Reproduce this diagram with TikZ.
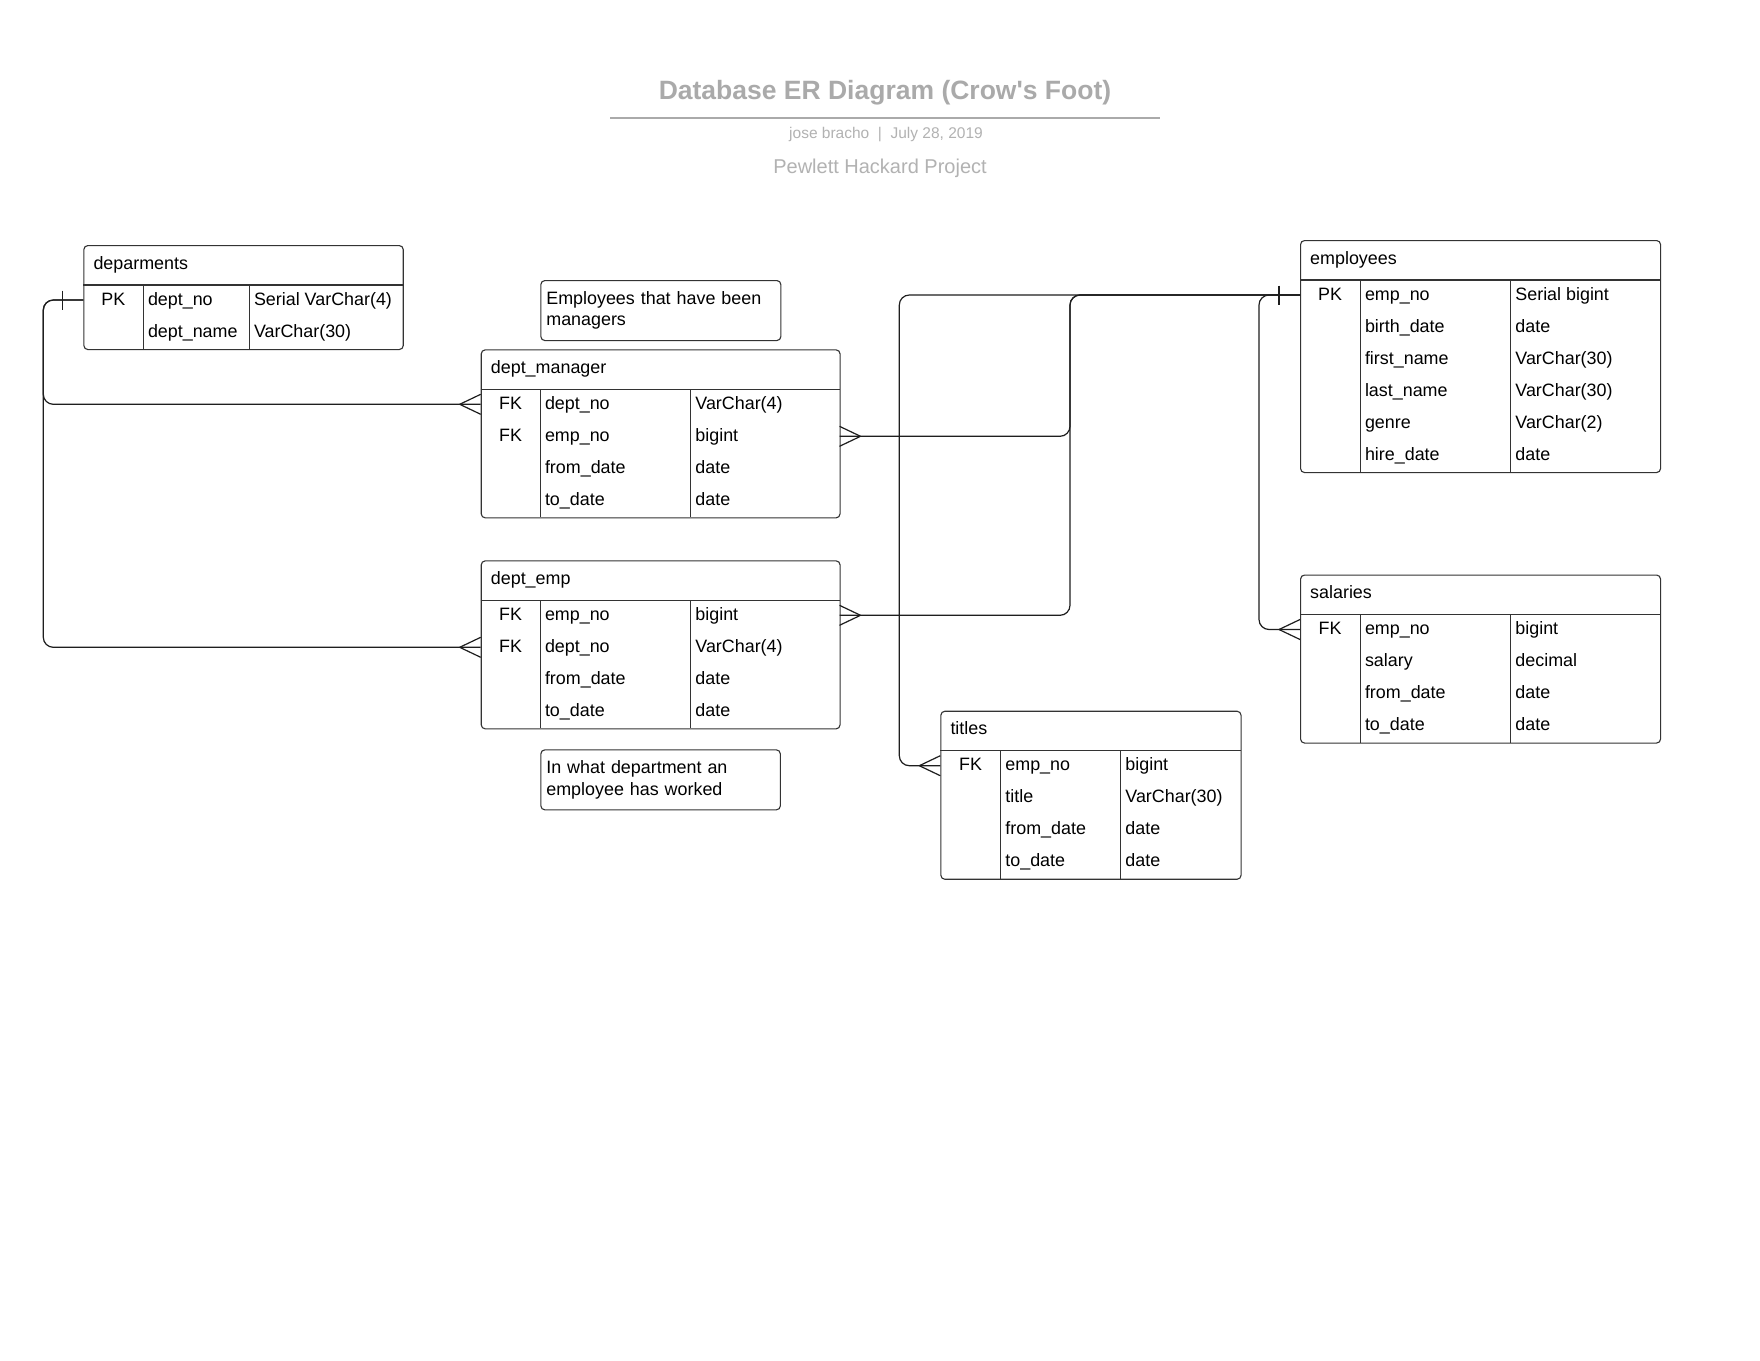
\documentclass[tikz,border=0pt]{standalone}
\usepackage{fontspec}
\setmainfont{Liberation Sans}
\usetikzlibrary{calc}
\definecolor{ttlgray}{RGB}{170,170,170}
\definecolor{subgray}{RGB}{178,178,178}
\definecolor{bordergray}{RGB}{51,51,51}
\definecolor{linegray}{RGB}{30,30,30}
\tikzset{
  tablebox/.style={draw=bordergray, line width=1.1pt, rounded corners=4pt, rectangle, inner sep=0pt},
  tableline/.style={draw=bordergray, line width=1.1pt},
  cell/.style={inner sep=0pt, font=\fontsize{17.9}{21}\selectfont},
  notebox/.style={draw=bordergray, line width=1.1pt, rounded corners=4pt, rectangle, inner xsep=5.5pt, inner ysep=0pt, align=left, font=\fontsize{17.9}{21.3}\selectfont},
  conn/.style={draw=linegray, line width=1.2pt, rounded corners=10pt},
  crowline/.style={draw=linegray, line width=1.2pt},
}
% #1 name, #2 left, #3 top, #4 right, #5 col1, #6 col2, #7 rows, #8 title, #9 row list
\newcommand\ertable[9]{%
  \pgfmathsetmacro\erB{#3+72+(#7-1)*32}%
  \pgfmathsetmacro\erW{#4-#2}%
  \pgfmathsetmacro\erH{\erB-#3}%
  \node[tablebox, anchor=north west, minimum width=\erW pt, minimum height=\erH pt] (#1) at (#2,#3) {};
  \draw[tableline] (#2,{#3+40}) -- (#4,{#3+40});
  \draw[tableline] (#5,{#3+40}) -- (#5,\erB);
  \draw[tableline] (#6,{#3+40}) -- (#6,\erB);
  \node[cell, anchor=base west] (#1-title) at ({#2+10},{#3+24}) {#8};
  \foreach \k/\n/\t [count=\i] in {#9} {
    \pgfmathsetmacro\yb{#3+60+(\i-1)*32}
    \pgfmathsetmacro\yc{#3+55+(\i-1)*32}
    \node[cell, anchor=base] (#1-k\i) at ({(#2+#5)/2},\yb) {\k};
    \node[cell, anchor=base west] (#1-n\i) at ({#5+4.5},\yb) {\n};
    \node[cell, anchor=base west] (#1-t\i) at ({#6+4.5},\yb) {\t};
    \coordinate (#1-L\i) at (#2,\yc);
    \coordinate (#1-R\i) at (#4,\yc);
  }
}
\newcommand\crowfoot[2]{\draw[crowline] ($(#1)+(#2,0)$) -- ($(#1)+(0,10)$) ($(#1)+(#2,0)$) -- ($(#1)+(0,-10)$);}
\newcommand\onebar[2]{\draw[crowline] ($(#1)+(#2,-9.5)$) -- ($(#1)+(#2,9.5)$);}
\begin{document}
\begin{tikzpicture}[x=1pt,y=-1pt]
\useasboundingbox (0,0) rectangle (1760,1360);
\fill[white] (0,0) rectangle (1760,1360);

% header
\node[anchor=base, inner sep=0pt, text=ttlgray, font=\fontsize{26.5}{30}\selectfont\bfseries] (title) at (885,99.3) {Database ER Diagram (Crow\textquotesingle s Foot)};
\draw[ttlgray, line width=2pt] (610,117.7) -- (1160,117.7);
\node[anchor=base, inner sep=0pt, text=subgray, font=\fontsize{15.5}{18}\selectfont] (author) at (886,138.3) {jose bracho\ \ |\ \ July 28, 2019};
\node[anchor=base, inner sep=0pt, text=subgray, font=\fontsize{20}{24}\selectfont] (project) at (880,173.3) {Pewlett Hackard Project};

% tables
\ertable{dep}{83.3}{245}{402.7}{143.3}{249.3}{2}{deparments}{PK/dept\_no/Serial VarChar(4), {}/dept\_name/VarChar(30)}
\ertable{dm}{480.7}{349.3}{839.5}{540.3}{690.7}{4}{dept\_manager}{FK/dept\_no/VarChar(4), FK/emp\_no/bigint, {}/from\_date/date, {}/to\_date/date}
\ertable{de}{480.7}{560.3}{839.5}{540.3}{690.7}{4}{dept\_emp}{FK/emp\_no/bigint, FK/dept\_no/VarChar(4), {}/from\_date/date, {}/to\_date/date}
\ertable{emp}{1300}{240}{1660}{1360.3}{1510.7}{6}{employees}{PK/emp\_no/Serial bigint, {}/birth\_date/date, {}/first\_name/VarChar(30), {}/last\_name/VarChar(30), {}/genre/VarChar(2), {}/hire\_date/date}
\ertable{sa}{1300}{574.5}{1660}{1360.3}{1510.7}{4}{salaries}{FK/emp\_no/bigint, {}/salary/decimal, {}/from\_date/date, {}/to\_date/date}
\ertable{ti}{940.3}{710.7}{1240.5}{1000.7}{1120.7}{4}{titles}{FK/emp\_no/bigint, {}/title/VarChar(30), {}/from\_date/date, {}/to\_date/date}

% notes
\node[notebox, anchor=north west, minimum width=240pt, minimum height=60pt, text width=229pt] (note1) at (540.3,280) {Employees that have been\\managers};
\node[notebox, anchor=north west, minimum width=239.5pt, minimum height=60pt, text width=228.5pt] (note2) at (540.3,749.3) {In what department an\\employee has worked};

% bus positions
\coordinate (busDep) at (43.3,0);
\coordinate (busDM) at (1070,0);
\coordinate (busT) at (899.3,0);
\coordinate (busS) at (1259,0);

% connectors
\draw[conn] (dep-L1) -- (dep-L1 -| busDep) -- (dm-L1 -| busDep) -- (dm-L1);
\draw[conn] (dep-L1) -- (dep-L1 -| busDep) -- (de-L2 -| busDep) -- (de-L2);
\draw[conn] (emp-L1) -- (emp-L1 -| busDM) -- (dm-R2 -| busDM) -- (dm-R2);
\draw[conn] (emp-L1) -- (emp-L1 -| busDM) -- (de-R1 -| busDM) -- (de-R1);
\draw[conn] (emp-L1) -- (emp-L1 -| busT) -- (ti-L1 -| busT) -- (ti-L1);
\draw[conn] (emp-L1) -- (emp-L1 -| busS) -- (sa-L1 -| busS) -- (sa-L1);

% ends
\onebar{dep-L1}{-21}
\onebar{emp-L1}{-21}
\crowfoot{dm-L1}{-21}
\crowfoot{de-L2}{-21}
\crowfoot{dm-R2}{21}
\crowfoot{de-R1}{21}
\crowfoot{ti-L1}{-21}
\crowfoot{sa-L1}{-21}
\end{tikzpicture}
\end{document}
